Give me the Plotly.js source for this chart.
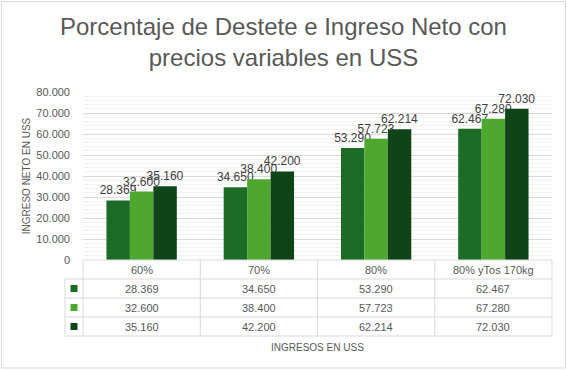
<!DOCTYPE html>
<html>
<head>
<meta charset="utf-8">
<script src="https://cdn.plot.ly/plotly-3.0.1.min.js"></script>
<style>
  html, body { margin: 0; padding: 0; background: #ffffff; }
  #chart { width: 567px; height: 370px; }
</style>
</head>
<body>
<div id="chart"></div>
<script>
// ---- Data ----
const categories = ["60%", "70%", "80%", "80% yTos 170kg"];
const serie1 = [28369, 34650, 53290, 62467];
const serie2 = [32600, 38400, 57723, 67280];
const serie3 = [35160, 42200, 62214, 72030];
const seriesNames = ["Serie 1", "Serie 2", "Serie 3"];
const yTicks = [0, 10000, 20000, 30000, 40000, 50000, 60000, 70000, 80000];

const chartTitle = "Porcentaje de Destete e Ingreso Neto con<br>precios variables en USS";
const yTitle = "INGRESO NETO EN USS";
const xTitle = "INGRESOS EN USS";

// ---- Styling ----
const colors = ["#1c6b27", "#4ea72e", "#0f4418"];
const W = 567, H = 370;
const L = 83, R = 552, T = 92, B = 260;
const font = "Liberation Sans, Arial, sans-serif";
const gray = "#595959";
const lineGray = "#d9d9d9";

function fmt(v) {
  return String(v).replace(/\B(?=(\d{3})+(?!\d))/g, ".");
}
const px2x = p => (p - L) / (R - L);
const px2y = p => (B - p) / (B - T);

const allSeries = [serie1, serie2, serie3];
const traces = allSeries.map((s, i) => ({
  type: "bar",
  name: seriesNames[i],
  x: categories,
  y: s,
  marker: { color: colors[i] },
  text: s.map(fmt),
  textposition: "outside",
  constraintext: "none",
  cliponaxis: false,
  textfont: { family: font, size: 12, color: "#404040" },
  hoverinfo: "x+y"
}));

// ---- Data table below plot ----
const rowEdges = [260, 279, 298, 317, 336];
const legendLeft = 65;
const n = categories.length;
const shapes = [];
const annotations = [];
const line = { color: lineGray, width: 1 };

shapes.push({ type: "line", xref: "paper", yref: "paper", x0: 0, x1: 1, y0: px2y(rowEdges[0]), y1: px2y(rowEdges[0]), line });
for (let r = 1; r < rowEdges.length; r++) {
  shapes.push({ type: "line", xref: "paper", yref: "paper", x0: px2x(legendLeft), x1: 1, y0: px2y(rowEdges[r]), y1: px2y(rowEdges[r]), line });
}
for (let c = 0; c <= n; c++) {
  shapes.push({ type: "line", xref: "paper", yref: "paper", x0: c / n, x1: c / n, y0: px2y(rowEdges[0]), y1: px2y(rowEdges[rowEdges.length - 1]), line });
}
shapes.push({ type: "line", xref: "paper", yref: "paper", x0: px2x(legendLeft), x1: px2x(legendLeft), y0: px2y(rowEdges[1]), y1: px2y(rowEdges[rowEdges.length - 1]), line });

categories.forEach((c, i) => {
  annotations.push({ xref: "paper", yref: "paper", x: (i + 0.5) / n, y: px2y((rowEdges[0] + rowEdges[1]) / 2), text: c, showarrow: false, xanchor: "center", yanchor: "middle", font: { family: font, size: 11, color: gray } });
});
allSeries.forEach((s, r) => {
  const yc = (rowEdges[r + 1] + rowEdges[r + 2]) / 2;
  s.forEach((v, i) => {
    annotations.push({ xref: "paper", yref: "paper", x: (i + 0.5) / n, y: px2y(yc), text: fmt(v), showarrow: false, xanchor: "center", yanchor: "middle", font: { family: font, size: 11, color: gray } });
  });
  const kx = (legendLeft + L) / 2;
  shapes.push({ type: "rect", xref: "paper", yref: "paper", x0: px2x(kx - 3.5), x1: px2x(kx + 3.5), y0: px2y(yc - 3.5), y1: px2y(yc + 3.5), line: { width: 0 }, fillcolor: colors[r] });
});

annotations.push({ xref: "paper", yref: "paper", x: 0.5, y: px2y(347), text: xTitle, showarrow: false, xanchor: "center", yanchor: "middle", font: { family: font, size: 10, color: gray } });

shapes.push({ type: "rect", xref: "paper", yref: "paper", x0: px2x(1.5), x1: px2x(565.5), y0: px2y(1.5), y1: px2y(368), line: { color: lineGray, width: 1 }, fillcolor: "rgba(0,0,0,0)" });

const layout = {
  width: W, height: H,
  margin: { l: L, r: W - R, t: T, b: H - B, pad: 0 },
  paper_bgcolor: "#ffffff",
  plot_bgcolor: "#ffffff",
  showlegend: false,
  separators: ",.",
  bargap: 0.4,
  bargroupgap: 0,
  barmode: "group",
  title: {
    text: chartTitle,
    xref: "container", x: 0.5, xanchor: "center",
    yref: "container", y: 1 - 35 / H, yanchor: "middle",
    font: { family: font, size: 24, color: gray }
  },
  xaxis: {
    type: "category",
    showticklabels: false,
    showgrid: false,
    zeroline: false,
    showline: false,
    ticks: ""
  },
  yaxis: {
    range: [0, 80000],
    tickvals: yTicks,
    ticktext: yTicks.map(fmt),
    showgrid: true,
    gridcolor: lineGray,
    gridwidth: 1,
    minor: { dtick: 2000, showgrid: true, gridcolor: "#f2f2f2", gridwidth: 1 },
    zeroline: false,
    showline: false,
    ticks: "",
    ticklabelstandoff: 12,
    tickfont: { family: font, size: 11, color: gray },
    title: { text: yTitle, standoff: 3, font: { family: font, size: 10, color: gray } }
  },
  shapes, annotations
};

Plotly.newPlot("chart", traces, layout, { displayModeBar: false, staticPlot: true });
</script>
</body>
</html>
